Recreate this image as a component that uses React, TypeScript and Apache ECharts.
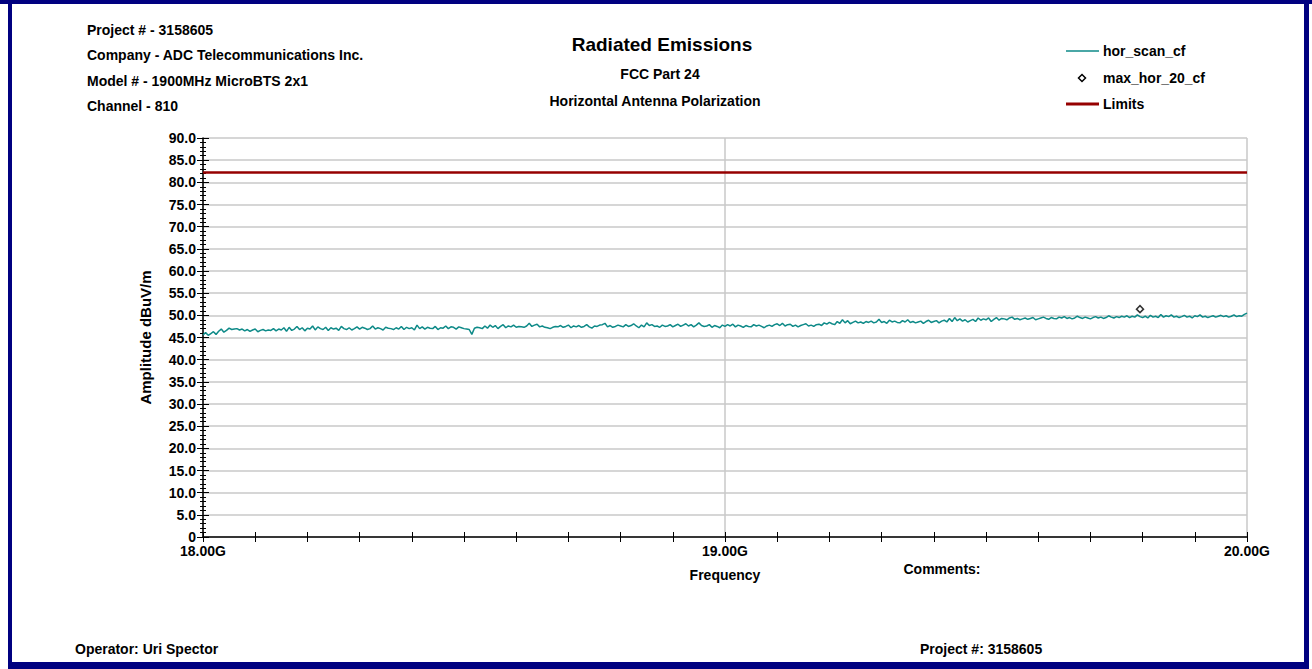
import React, { useEffect, useRef } from "react";
import * as echarts from "echarts";

const scanStartGHz = 18.0;
const scanStepGHz = 0.005;
const scanValues1 = [
  45.6, 46.1, 45.5, 45.9, 46.3, 45.7, 46.4, 46.9, 46.2, 46.6, 47.1, 46.8, 46.9, 47.0, 46.7, 46.9, 46.5, 46.8, 46.4, 46.7,
  46.9, 46.3, 46.6, 46.8, 46.5, 46.7, 46.6, 47.0, 46.5, 46.9, 46.7, 47.2, 46.4, 47.3, 46.6, 46.9, 47.5, 46.8, 47.2, 46.5,
  47.1, 46.9, 47.6, 46.7, 47.4, 47.0, 46.8, 47.3, 46.6, 47.2,
];
const scanValues2 = [
  46.9, 47.1, 46.6, 47.5, 47.0, 46.8, 47.2, 46.7, 47.0, 47.4, 46.9, 47.3, 47.1, 46.8, 47.0, 47.6, 46.9, 47.2, 47.0, 46.7,
  47.3, 47.1, 47.0, 46.8, 47.2, 46.9, 47.5, 46.8, 47.3, 47.0, 47.2, 46.7, 47.8, 47.0, 47.4, 46.9, 47.3, 47.1, 47.0, 47.5,
  46.8, 47.2, 47.1, 47.6, 47.0, 47.4, 47.3, 46.9, 47.4, 47.2,
];
const scanValues3 = [
  47.0, 46.9, 46.8, 45.7, 47.1, 47.3, 47.2, 47.0, 47.6, 47.1, 47.8, 47.3, 47.7, 47.0, 47.5, 47.9, 47.2, 47.6, 47.4, 47.8,
  47.3, 47.5, 47.4, 47.3, 47.6, 48.2, 47.5, 47.8, 48.0, 47.4, 47.6, 47.3, 47.2, 47.0, 47.3, 47.5, 47.4, 47.7, 47.3, 47.5,
  47.8, 47.2, 47.6, 47.4, 47.7, 47.3, 47.5, 47.9, 47.4, 47.1,
];
const scanValues4 = [
  47.6, 47.5, 47.8, 47.9, 48.2, 47.4, 47.7, 47.3, 47.5, 47.8, 47.6, 47.4, 47.9, 47.5, 47.7, 48.1, 47.6, 47.2, 47.8, 47.4,
  48.3, 47.7, 47.9, 47.5, 47.6, 47.3, 47.8, 47.5, 47.6, 47.9, 47.4, 47.7, 48.0, 47.5, 47.8, 48.1, 47.6, 47.9, 47.4, 47.8,
  48.3, 47.7, 47.5, 47.6, 47.9, 47.3, 47.7, 47.5, 47.2, 47.8,
];
const scanValues5 = [
  47.5, 47.9, 47.6, 48.0, 47.4, 47.8, 47.6, 47.3, 47.7, 47.5, 47.4, 47.9, 47.6, 47.8, 47.5, 47.2, 47.6, 47.8, 47.5, 47.9,
  48.1, 47.7, 48.2, 47.6, 47.9, 48.0, 47.5, 47.8, 47.4, 47.7, 47.9, 48.1, 47.6, 47.8, 47.5, 47.9, 48.0, 47.7, 48.3, 48.0,
  48.4, 48.1, 47.9, 48.6, 48.2, 49.0, 48.3, 48.8, 48.1, 48.4,
];
const scanValues6 = [
  48.7, 48.3, 48.5, 48.2, 48.6, 48.4, 48.7, 48.3, 48.5, 49.1, 48.4, 48.6, 48.2, 48.9, 48.5, 48.7, 48.4, 48.3, 48.8, 48.5,
  49.0, 48.4, 48.6, 48.3, 48.5, 48.7, 48.2, 48.6, 48.9, 48.4, 48.6, 48.8, 48.3, 48.7, 48.9, 48.5, 49.3, 48.6, 49.5, 48.8,
  49.2, 48.7, 49.0, 48.5, 48.8, 49.1, 48.6, 49.4, 48.9, 49.2,
];
const scanValues7 = [
  49.0, 49.4, 48.6, 49.1, 49.5, 48.9, 49.3, 49.2, 49.0, 49.4, 49.6, 49.1, 49.3, 49.0, 49.2, 49.4, 49.1, 49.3, 49.5, 49.0,
  49.2, 49.4, 49.6, 49.3, 49.1, 49.5, 49.3, 49.2, 49.6, 49.4, 49.7, 49.3, 49.5, 49.2, 49.4, 49.8, 49.5, 49.3, 49.6, 49.4,
  49.2, 49.5, 49.7, 49.4, 49.6, 49.3, 49.5, 49.9, 49.6, 49.4,
];
const scanValues8 = [
  49.7, 49.5, 49.8, 49.6, 49.9, 49.5, 49.8, 49.6, 50.1, 49.7, 49.5, 49.8, 49.4, 50.0, 49.6, 49.8, 49.5, 50.2, 49.6, 49.9,
  49.7, 50.1, 49.6, 49.8, 49.5, 49.7, 50.0, 49.6, 49.8, 49.4, 49.9, 49.7, 50.1, 49.6, 49.8, 49.5, 49.7, 49.9, 49.6, 49.8,
  50.0, 49.7, 49.9, 49.6, 49.8, 50.1, 49.7, 49.9, 49.8, 50.2, 50.5,
];
const scanValues = [
  ...scanValues1, ...scanValues2, ...scanValues3, ...scanValues4,
  ...scanValues5, ...scanValues6, ...scanValues7, ...scanValues8,
];

const maxPoints: [number, number][] = [[19.795, 51.4]];
const limitFreqs = [18.0, 20.0];
const limitValues = [82.2, 82.2];

const headerLines = [
  "Project # - 3158605",
  "Company - ADC Telecommunications Inc.",
  "Model # - 1900MHz MicroBTS 2x1",
  "Channel - 810",
];
const titleLines = ["Radiated Emissions", "FCC Part 24", "Horizontal Antenna Polarization"];
const legendNames = ["hor_scan_cf", "max_hor_20_cf", "Limits"];

const FONT = "'Liberation Sans', Arial, sans-serif";
const NAVY = "#000080";
const TEAL = "#0e8a88";
const RED = "#960000";

export default function App() {
  const ref = useRef<HTMLDivElement>(null);
  useEffect(() => {
    if (!ref.current) return;
    const chart = echarts.init(ref.current, null, { renderer: "svg" });
    const scanData = scanValues.map((v, i) => [scanStartGHz + i * scanStepGHz, v]);
    const limitData = limitFreqs.map((f, i) => [f, limitValues[i]]);
    const txt = (x: number, y: number, text: string, size: number, align = "left") => ({
      type: "text",
      x,
      y,
      style: {
        text,
        fill: "#000",
        font: `bold ${size}px ${FONT}`,
        textAlign: align,
        textVerticalAlign: "middle",
      },
    });
    const graphic: any[] = [
      { type: "rect", shape: { x: 0, y: 0, width: 1312, height: 4 }, style: { fill: NAVY } },
      { type: "rect", shape: { x: 8, y: 0, width: 4, height: 669 }, style: { fill: NAVY } },
      { type: "rect", shape: { x: 1304, y: 0, width: 5, height: 669 }, style: { fill: NAVY } },
      { type: "rect", shape: { x: 8, y: 662, width: 1301, height: 7 }, style: { fill: NAVY } },
      ...headerLines.map((t, i) => txt(87, 30 + i * 25.3, t, 14)),
      txt(662, 44, titleLines[0], 19, "center"),
      txt(660, 74, titleLines[1], 14, "center"),
      txt(655, 101, titleLines[2], 14, "center"),
      { type: "line", shape: { x1: 1066, y1: 51, x2: 1099, y2: 51 }, style: { stroke: TEAL, lineWidth: 1.5 } },
      {
        type: "polygon",
        shape: { points: [[1082, 74.5], [1085.5, 78], [1082, 81.5], [1078.5, 78]] },
        style: { fill: "#fff", stroke: "#000", lineWidth: 1.5 },
      },
      { type: "line", shape: { x1: 1066, y1: 104, x2: 1099, y2: 104 }, style: { stroke: RED, lineWidth: 3 } },
      ...legendNames.map((t, i) => txt(1103, 51 + i * 26.5, t, 14)),
      txt(942, 569, "Comments:", 14, "center"),
      txt(75, 649, "Operator: Uri Spector", 14),
      txt(920, 649, "Project #: 3158605", 14),
    ];
    const labelFont = { color: "#000", fontWeight: "bold" as const, fontSize: 14, fontFamily: FONT };
    chart.setOption({
      animation: false,
      backgroundColor: "#fff",
      grid: { left: 203, right: 65, top: 138, bottom: 132, containLabel: false },
      xAxis: [
        {
          type: "value",
          min: 18,
          max: 20,
          interval: 0.1,
          position: "bottom",
          name: "Frequency",
          nameLocation: "middle",
          nameGap: 31,
          nameTextStyle: { ...labelFont },
          axisLine: { show: true, onZero: false, lineStyle: { color: "#000", width: 1.5 } },
          axisTick: { show: true, length: 5, lineStyle: { color: "#000", width: 1 } },
          axisLabel: {
            ...labelFont,
            margin: 7,
            formatter: (v: number) => (Math.abs(v - Math.round(v)) < 1e-6 ? v.toFixed(2) + "G" : ""),
          },
          splitLine: { show: false },
        },
        {
          type: "value",
          min: 18,
          max: 20,
          interval: 0.1,
          position: "bottom",
          axisLine: { show: false },
          axisTick: { show: true, inside: true, length: 5, lineStyle: { color: "#000", width: 1 } },
          axisLabel: { show: false },
          splitLine: { show: false },
        },
        {
          type: "value",
          min: 18,
          max: 20,
          interval: 1,
          position: "bottom",
          axisLine: { show: false },
          axisTick: { show: false },
          axisLabel: { show: false },
          splitLine: { show: true, lineStyle: { color: "#c8c8c8", width: 1.5 } },
        },
      ],
      yAxis: [
        {
          type: "value",
          min: 0,
          max: 90,
          interval: 5,
          position: "left",
          name: "Amplitude dBuV/m",
          nameLocation: "middle",
          nameGap: 50,
          nameRotate: 90,
          nameTextStyle: { ...labelFont, fontSize: 15 },
          axisLine: { show: true, lineStyle: { color: "#000", width: 1.5 } },
          axisTick: { show: true, length: 6, lineStyle: { color: "#000", width: 1 } },
          minorTick: { show: true, splitNumber: 5, length: 3, lineStyle: { color: "#000", width: 1 } },
          axisLabel: { ...labelFont, margin: 7, formatter: (v: number) => (v === 0 ? "0" : v.toFixed(1)) },
          splitLine: { show: true, lineStyle: { color: "#c8c8c8", width: 1.5 } },
        },
        {
          type: "value",
          min: 0,
          max: 90,
          interval: 5,
          position: "left",
          axisLine: { show: false },
          axisTick: { show: true, inside: true, length: 6, lineStyle: { color: "#000", width: 1 } },
          minorTick: { show: true, splitNumber: 5, length: 3, lineStyle: { color: "#000", width: 1 } },
          axisLabel: { show: false },
          splitLine: { show: false },
        },
      ],
      series: [
        {
          name: legendNames[0],
          type: "line",
          data: scanData,
          symbol: "none",
          lineStyle: { color: TEAL, width: 1.5 },
          z: 3,
        },
        {
          name: legendNames[1],
          type: "scatter",
          data: maxPoints,
          symbol: "diamond",
          symbolSize: 7,
          itemStyle: { color: "#fff", borderColor: "#000", borderWidth: 1.5 },
          z: 4,
        },
        {
          name: legendNames[2],
          type: "line",
          data: limitData,
          symbol: "none",
          lineStyle: { color: RED, width: 2.5 },
          z: 3,
        },
      ],
      graphic,
    });
    return () => chart.dispose();
  }, []);
  return <div ref={ref} style={{ position: "absolute", left: 0, top: 0, width: 1312, height: 669 }} />;
}
